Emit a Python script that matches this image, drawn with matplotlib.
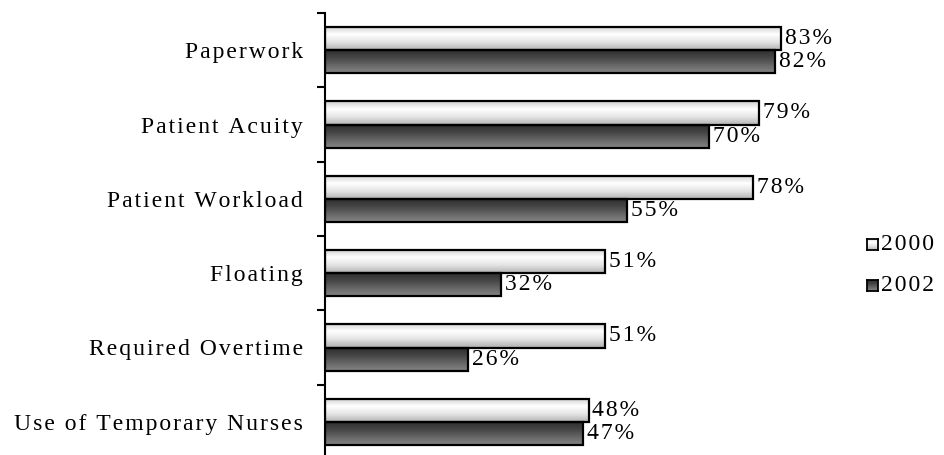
import numpy as np
import matplotlib.pyplot as plt
from matplotlib.colors import LinearSegmentedColormap

categories = ["Paperwork", "Patient Acuity", "Patient Workload", "Floating",
              "Required Overtime", "Use of Temporary Nurses"]
vals_2000 = [83, 79, 78, 51, 51, 48]
vals_2002 = [82, 70, 55, 32, 26, 47]
years = ["2000", "2002"]

plt.rcParams['font.family'] = ['Liberation Serif', 'DejaVu Serif']
FS = 17


def spaced(s):
    # the original text is letter-spaced, hair spaces give the same look
    return '\u200a'.join(s)


light = LinearSegmentedColormap.from_list("light", ["#d0d0d0", "#ffffff", "#e4e4e4", "#b4b4b4"])
dark = LinearSegmentedColormap.from_list("dark", ["#2c2c2c", "#444444", "#666666", "#868686"])
grad = np.linspace(0, 1, 64).reshape(-1, 1)

fig = plt.figure(figsize=(9.45, 4.55), dpi=100)
ax = fig.add_axes([325 / 945, -4 / 455, 549 / 945, 446 / 455])

h = 0.31
n = len(categories)
for i, (a, b) in enumerate(zip(vals_2000, vals_2002)):
    y = n - 1 - i
    for v, off, cm in [(a, h, light), (b, 0, dark)]:
        y0 = y + off - h
        ax.imshow(grad, cmap=cm, aspect='auto', extent=(0, v, y0, y0 + h),
                  origin='upper', zorder=1, interpolation='bilinear')
        ax.add_patch(plt.Rectangle((0, y0), v, h, fill=False, edgecolor='black',
                                   linewidth=1.6, zorder=2))
        ax.text(v + 0.7, y0 + h / 2, spaced(f"{v}%"), va='center', ha='left', fontsize=FS)

ax.set_xlim(0, 100)
ax.set_ylim(-0.5, n - 0.5)
ax.set_yticks(np.arange(n))
ax.set_yticklabels([spaced(c) for c in categories[::-1]], fontsize=FS)
ax.set_yticks(np.arange(n + 1) - 0.5, minor=True)
ax.tick_params(axis='y', which='major', length=0, pad=16)
ax.tick_params(axis='y', which='minor', length=6, width=1.5, direction='out')
ax.set_xticks([])
for s in ['top', 'right', 'bottom']:
    ax.spines[s].set_visible(False)
ax.spines['left'].set_linewidth(1.5)

# legend
for k, (lab, cm) in enumerate(zip(years, [light, dark])):
    ly = 244.5 + k * 41
    lax = fig.add_axes([867 / 945, 1 - (ly + 5.5) / 455, 11 / 945, 11 / 455])
    lax.imshow(grad, cmap=cm, aspect='auto', extent=(0, 1, 0, 1), origin='upper')
    lax.set_xticks([])
    lax.set_yticks([])
    for sp in lax.spines.values():
        sp.set_linewidth(1.3)
    fig.text(881 / 945, 1 - ly / 455, spaced(lab), va='center', ha='left', fontsize=FS)

fig.savefig("out.png", dpi=100)
